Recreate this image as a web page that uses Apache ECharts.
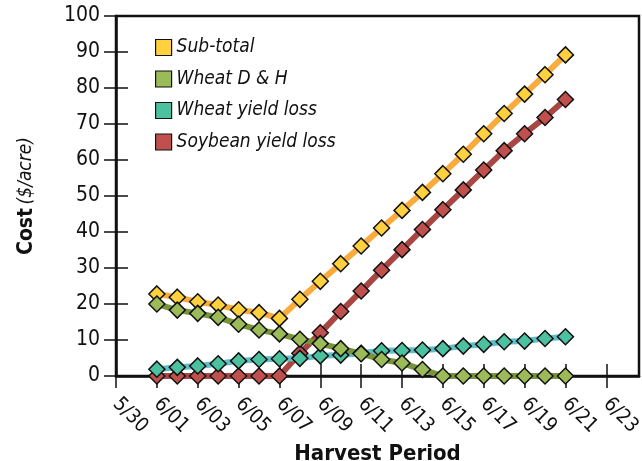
<!DOCTYPE html>
<html>
<head>
<meta charset="utf-8">
<script src="https://cdn.jsdelivr.net/npm/echarts@6/dist/echarts.min.js"></script>
<style>
  html, body { margin: 0; padding: 0; background: #fff; }
  #main { width: 642px; height: 461px; }
</style>
</head>
<body>
<div id="main"></div>
<script>
// harvest dates and tick labels
const dates = ['6/01','6/02','6/03','6/04','6/05','6/06','6/07','6/08','6/09','6/10','6/11',
               '6/12','6/13','6/14','6/15','6/16','6/17','6/18','6/19','6/20','6/21'];
const tickLabels = ['5/30','6/01','6/03','6/05','6/07','6/09','6/11','6/13','6/15','6/17','6/19','6/21','6/23'];

// cost ($/acre)
const subTotal = [22.8, 21.9, 20.6, 19.7, 18.4, 17.6, 16.0, 21.3, 26.3, 31.2, 36.1,
                  41.1, 46.0, 51.0, 56.2, 61.6, 67.3, 72.9, 78.3, 83.7, 89.2];
const wheatDH = [20.0, 18.3, 17.4, 16.3, 14.4, 12.8, 11.7, 10.2, 9.0, 7.6, 6.2,
                 4.6, 3.6, 1.8, 0, 0, 0, 0, 0, 0, 0];
const wheatYield = [1.9, 2.4, 2.8, 3.4, 4.2, 4.6, 4.8, 4.9, 5.6, 5.8, 6.3,
                    7.0, 7.1, 7.2, 7.6, 8.3, 8.8, 9.5, 9.7, 10.4, 10.9];
const soyYield = [0, 0, 0, 0, 0, 0, 0, 6.3, 12.0, 17.9, 23.6,
                  29.4, 35.1, 40.7, 46.2, 51.7, 57.2, 62.6, 67.3, 71.8, 76.8];

// days counted from 5/30
function dayOf(s) {
    const [m, d] = s.split('/').map(Number);
    return m === 5 ? d - 30 : d + 1;
}
const pairs = vals => dates.map((s, i) => [dayOf(s), vals[i]]);

const FONT = "'Liberation Sans Narrow', 'DejaVu Sans Condensed', 'Open Sans', sans-serif";
const gridPos = { left: 116, right: 3, top: 16, bottom: 85, outerBoundsMode: 'none', containLabel: false };

function mkSeries(name, vals, lineColor, fill) {
    return {
        name: name,
        type: 'line',
        data: pairs(vals),
        symbol: 'diamond',
        symbolSize: 16,
        lineStyle: { color: lineColor, width: 6 },
        itemStyle: { color: fill, borderColor: '#111', borderWidth: 1.5 },
        emphasis: { disabled: true },
        animation: false
    };
}

const chart = echarts.init(document.getElementById('main'), null, { renderer: 'canvas' });

chart.setOption({
    backgroundColor: '#fff',
    textStyle: { fontFamily: FONT },
    grid: [
        Object.assign({ show: true, borderColor: '#111', borderWidth: 2.5, backgroundColor: 'transparent' }, gridPos),
        Object.assign({}, gridPos)
    ],
    legend: {
        data: ['Sub-total', 'Wheat D & H', 'Wheat yield loss', 'Soybean yield loss'],
        orient: 'vertical',
        left: 150,
        top: 33,
        icon: 'rect',
        itemWidth: 16,
        itemHeight: 16,
        itemGap: 12.5,
        itemStyle: { borderColor: '#111', borderWidth: 1.2 },
        textStyle: { fontFamily: FONT, fontStyle: 'italic', fontSize: 19, color: '#111' }
    },
    xAxis: [{
        type: 'value',
        gridIndex: 0,
        min: 0,
        max: 25.6,
        interval: 2,
        name: 'Harvest Period',
        nameLocation: 'middle',
        nameGap: 54,
        nameTextStyle: { fontFamily: FONT, fontWeight: 'bold', fontSize: 22, color: '#111' },
        axisLine: { lineStyle: { color: '#111', width: 2.5 } },
        axisTick: { length: 12, lineStyle: { color: '#111', width: 1.5 } },
        axisLabel: {
            rotate: -45,
            margin: 25,
            fontSize: 20,
            color: '#111',
            showMaxLabel: false,
            formatter: v => tickLabels[v / 2] || ''
        },
        splitLine: { show: false }
    }, {
        type: 'value',
        gridIndex: 1,
        min: 0,
        max: 25.6,
        interval: 2,
        axisLine: { show: false },
        axisTick: { inside: true, length: 12, lineStyle: { color: '#111', width: 1.5 } },
        axisLabel: { show: false },
        splitLine: { show: false }
    }],
    yAxis: [{
        type: 'value',
        gridIndex: 0,
        min: 0,
        max: 100,
        interval: 10,
        name: '{b|Cost} {i|($/acre)}',
        nameLocation: 'middle',
        nameGap: 79,
        nameTextStyle: {
            rich: {
                b: { fontFamily: FONT, fontWeight: 'bold', fontSize: 21, color: '#111' },
                i: { fontFamily: FONT, fontStyle: 'italic', fontSize: 19, color: '#111' }
            }
        },
        axisLine: { lineStyle: { color: '#111', width: 2.5 } },
        axisTick: { length: 12, lineStyle: { color: '#111', width: 1.5 } },
        axisLabel: { margin: 16, fontSize: 21, color: '#111' },
        splitLine: { show: false }
    }, {
        type: 'value',
        gridIndex: 1,
        min: 0,
        max: 100,
        interval: 10,
        axisLine: { show: false },
        axisTick: { inside: true, length: 12, lineStyle: { color: '#111', width: 1.5 } },
        axisLabel: { show: false },
        splitLine: { show: false }
    }],
    series: [
        mkSeries('Sub-total', subTotal, '#F9AC3C', '#FFD13F'),
        mkSeries('Soybean yield loss', soyYield, '#A84643', '#C0504D'),
        mkSeries('Wheat yield loss', wheatYield, '#63BDC6', '#4CC19F'),
        mkSeries('Wheat D & H', wheatDH, '#77933C', '#9BBB59')
    ]
});
</script>
</body>
</html>
